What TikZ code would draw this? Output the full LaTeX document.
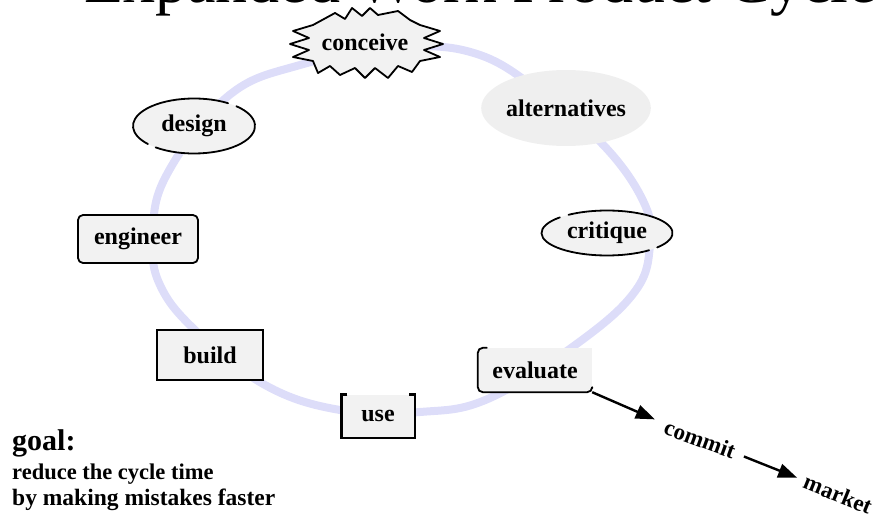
\documentclass[tikz,border=0pt]{standalone}
\usepackage{fontspec}
\setmainfont{Liberation Serif}
\usetikzlibrary{arrows.meta,shapes.geometric}

\definecolor{ring}{RGB}{221,221,249}
\definecolor{boxfill}{RGB}{242,242,242}
\definecolor{softfill}{RGB}{239,239,239}

\begin{document}
\begin{tikzpicture}[x=1pt,y=-1pt,
  lbl/.style={font=\bfseries\fontsize{24}{24}\selectfont, inner sep=0pt},
  stepbox/.style={lbl, fill=boxfill},
  outline/.style={line width=1.8pt, line cap=round, line join=round},
  heavy/.style={line width=2.4pt, line join=miter},
  flow/.style={line width=2.4pt, -{Triangle[length=19pt,width=14pt]}},
  note/.style={font=\bfseries\fontsize{22.5}{22.5}\selectfont, inner sep=0pt, anchor=base west},
]
\useasboundingbox (0,0) rectangle (881,519);
\clip (0,0) rectangle (881,519);

% title, only its lower part falls inside the page
\node[anchor=base west, inner sep=0pt, font=\fontsize{64}{64}\selectfont] (title) at (84,3)
  {Expanded Work Product Cycle};

% the cycle ring
\draw[ring, line width=8pt] plot[smooth cycle, tension=0.65] coordinates {
  (153,240) (165,178) (227,97) (300,65) (400,47) (480,55) (548,98) (608,150)
  (645,205) (650,245) (636,290) (582,340) (490,398) (420,412) (340,410)
  (265,385) (195,330) (160,285)};

% conceive: burst
\filldraw[fill=boxfill, outline]
  (313,25) -- (335,13) -- (345,19) -- (352,8) -- (362,16) -- (370,8) -- (378,15)
  -- (398,11) -- (410,20) -- (420,25)
  -- (440,31) -- (424,38) -- (443,44) -- (424,50) -- (440,57) -- (420,61)
  -- (412,72) -- (398,66) -- (388,78) -- (375,68) -- (365,78) -- (355,68)
  -- (340,75) -- (330,66) -- (318,73) -- (313,61)
  -- (293,57) -- (309,50) -- (290,44) -- (309,38) -- (293,31) -- cycle;
\node[lbl] (conceive) at (365,42) {conceive};

% design: ellipse with two breaks in its outline
\node[stepbox, ellipse, minimum width=122pt, minimum height=55pt] (design) at (194,126) {design};
\draw[outline, shift={(design.center)}]
  ({61*cos(56)},{-27.5*sin(56)}) arc[start angle=-56, end angle=-221, x radius=61, y radius=27.5];
\draw[outline, shift={(design.center)}]
  ({61*cos(231)},{-27.5*sin(231)}) arc[start angle=-231, end angle=-406, x radius=61, y radius=27.5];

% alternatives: unbordered ellipse
\node[lbl, ellipse, fill=softfill, minimum width=156pt, minimum height=76pt] (alternatives) at (566,108) {alternatives};

% engineer
\node[stepbox, draw, outline, rounded corners=5pt, minimum width=120pt, minimum height=48pt] (engineer) at (138,239) {engineer};

% critique: ellipse with two breaks in its outline
\node[stepbox, ellipse, minimum width=131pt, minimum height=45pt] (critique) at (607,233) {critique};
\draw[outline, shift={(critique.center)}]
  ({65.5*cos(136)},{-22.5*sin(136)}) arc[start angle=-136, end angle=-310, x radius=65.5, y radius=22.5];
\draw[outline, shift={(critique.center)}]
  ({65.5*cos(320)},{-22.5*sin(320)}) arc[start angle=-320, end angle=-486, x radius=65.5, y radius=22.5];

% build
\node[stepbox, draw, heavy, minimum width=106pt, minimum height=50pt] (build) at (210,355) {build};

% evaluate: open box, left and bottom sides drawn
\node[stepbox, minimum width=114pt, minimum height=44pt] (evaluate) at (535,370) {evaluate};
\draw[outline, rounded corners=5pt]
  ([xshift=9pt]evaluate.north west) -- (evaluate.north west) -- (evaluate.south west)
  -- (evaluate.south east) -- ([yshift=4pt]evaluate.south east);

% use: bracketed box
\node[stepbox, minimum width=73pt, minimum height=43pt] (use) at (378,416) {use};
\draw[heavy]
  ([xshift=6pt]use.north west) -- (use.north west) -- (use.south west)
  -- (use.south east) -- (use.north east) -- ([xshift=-6pt]use.north east);

% way out of the cycle
\node[lbl, font=\bfseries\fontsize{23}{23}\selectfont, rotate=-20, inner sep=2pt] (commit) at (700,439) {commit};
\node[lbl, font=\bfseries\fontsize{23}{23}\selectfont, rotate=-22, inner sep=2pt] (market) at (838,494) {market};
\draw[flow, shorten >=10pt] (evaluate.south east) -- (commit);
\draw[flow, shorten <=8pt, shorten >=6pt] (commit) -- (market);

% goal note
\node[note, font=\bfseries\fontsize{30}{30}\selectfont] (goal) at (12,450) {goal:};
\node[note] (goal1) at (12,479) {reduce the cycle time};
\node[note, font=\bfseries\fontsize{23.5}{23.5}\selectfont] (goal2) at (12,505) {by making mistakes faster};
\end{tikzpicture}
\end{document}
